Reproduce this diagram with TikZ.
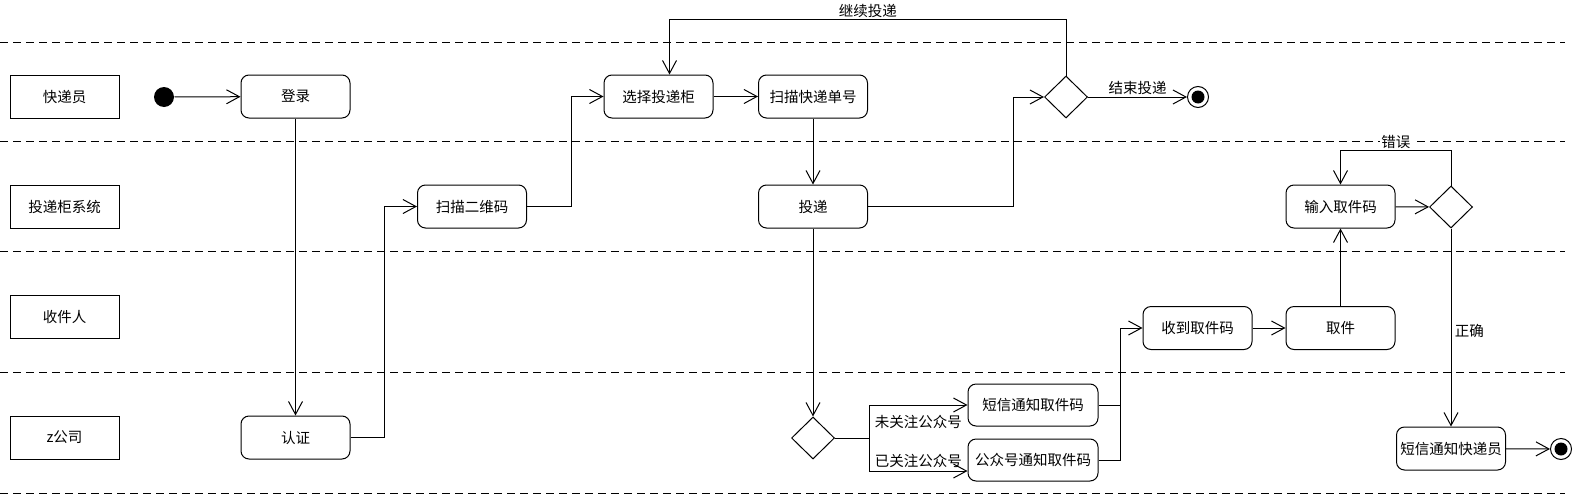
\documentclass[tikz,border=0pt]{standalone}
\usepackage{fontspec}
\newfontfamily\cjk{Noto Sans CJK SC}
\usetikzlibrary{arrows.meta}
\usetikzlibrary{shapes.geometric}
\usetikzlibrary{positioning}

\begin{document}
\begin{tikzpicture}[x=1pt, y=-1pt, line width=1pt,
  every node/.style={font=\cjk\fontsize{14.5}{17}\selectfont},
  lane/.style={draw, minimum width=109pt, minimum height=43pt, inner sep=0pt},
  act/.style={draw, rounded corners=8pt, minimum width=109pt, minimum height=43pt, inner sep=0pt},
  wideact/.style={act, minimum width=130pt, minimum height=42pt},
  choice/.style={draw, diamond, minimum width=43pt, minimum height=42pt, inner sep=0pt},
  startdot/.style={circle, fill=black, minimum size=20pt, inner sep=0pt},
  enddot/.style={circle, draw, fill=white, minimum size=21pt, inner sep=0pt},
  flow/.style={-{Straight Barb[length=13pt, width=14pt]}},
  swim/.style={dash pattern=on 8pt off 5pt},
  tag/.style={fill=white, inner sep=1.5pt}
]

\useasboundingbox (0,0) rectangle (1574,498);

%%% couloirs
\foreach \y in {42,141,251,372,493}
  \draw[swim] (0,\y) -- (1565,\y);

\node[lane] (kdy) at (64.5,96.5) {快递员};
\node[lane] (tdg) at (64.5,206.5) {投递柜系统};
\node[lane] (sjr) at (64.5,316.5) {收件人};
\node[lane] (zgs) at (64.5,437.5) {z公司};

%%% activites
\node[startdot] (start) at (164,97) {};
\node[act] (login) at (295.5,96.5) {登录};
\node[act] (auth) at (295.5,437.5) {认证};
\node[act] (scanqr) at (472,206.5) {扫描二维码};
\node[act] (select) at (658.5,96.5) {选择投递柜};
\node[act] (scanno) at (813,96.5) {扫描快递单号};
\node[act] (deliver) at (813,206.5) {投递};
\node[choice] (d1) at (1066,97) {};
\node[enddot] (end1) at (1198,97) {};
\fill (end1.center) circle (6.5);

\node[choice] (d2) at (813,438) {};
\node[wideact] (sms) at (1033,405) {短信通知取件码};
\node[wideact] (wechat) at (1033,460) {公众号通知取件码};
\coordinate (jn) at (1120,405);

\node[act] (receive) at (1197.5,328) {收到取件码};
\node[act] (pickup) at (1340.5,328) {取件};
\node[act] (input) at (1340.5,206.5) {输入取件码};
\node[choice] (d3) at (1451,207) {};
\node[act] (notify) at (1451,448.5) {短信通知快递员};
\node[enddot] (end2) at (1561,449) {};
\fill (end2.center) circle (6.5);

%%% fleches
\draw[flow] (start) -- (login);
\draw[flow] (login) -- (auth);
\draw[flow] (auth.east) -- ++(34,0) |- (scanqr.west);
\draw[flow] (scanqr.east) -- ++(44,0) |- (select.west);
\draw[flow] (select) -- (scanno);
\draw[flow] (scanno) -- (deliver);
\draw[flow] (deliver.east) -- ++(145,0) |- (d1.west);
\draw[flow] (d1.north) -- ++(0,-56) -| ([xshift=11pt]select.north)
  node[tag, above, pos=0.25] {继续投递};
\draw[flow] (d1) -- (end1) node[tag, above, midway] {结束投递};

\draw[flow] (deliver) -- (d2);
\draw[flow] (d2.east) -- ++(34,0) |- (sms.west)
  node[tag, below=8pt, pos=0.75] {未关注公众号};
\draw[flow] (d2.east) -- ++(34,0) |- ([yshift=-11pt]wechat.west)
  node[above, pos=0.75] {已关注公众号};
\draw[flow] (sms.east) -- (jn) |- (receive.west);
\draw (wechat.east) -| (jn);

\draw[flow] (receive) -- (pickup);
\draw[flow] (pickup) -- (input);
\draw[flow] (input) -- (d3);
\draw[flow] (d3.north) -- ++(0,-35) -| (input.north)
  node[tag, above, pos=0.25] {错误};
\draw[flow] (d3) -- (notify) node[right, pos=0.52] {正确};
\draw[flow] (notify) -- (end2);

\end{tikzpicture}
\end{document}
